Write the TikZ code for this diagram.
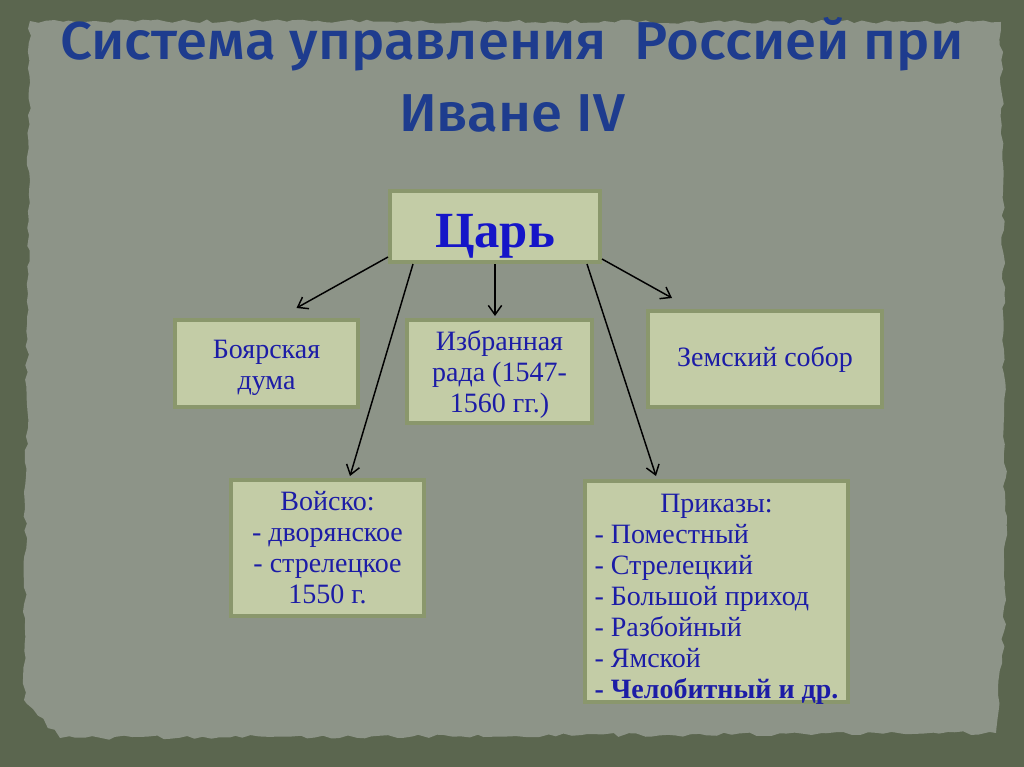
\documentclass[tikz,border=0pt]{standalone}
\usepackage{fontspec}
\setmainfont{Liberation Serif}
\newfontfamily\titlefont[FakeStretch=1.055]{Fira Sans Medium}
\usetikzlibrary{calc,arrows.meta,decorations.pathmorphing}

\definecolor{frameolive}{HTML}{5B664F}
\definecolor{paper}{HTML}{8D9488}
\definecolor{boxfill}{HTML}{C3CCA6}
\definecolor{boxline}{HTML}{8A976C}
\definecolor{titleblue}{HTML}{1E3C8E}
\definecolor{textblue}{HTML}{1C1CA6}
\definecolor{tsarblue}{HTML}{1515C8}

% lower the text of a box by #1 without changing its size
\newcommand\lowerby[2]{\raisebox{0pt}[\dimexpr\height+#1\relax][\dimexpr\depth-#1\relax]{#2}}

\begin{document}
\begin{tikzpicture}[
  x=0.75pt, y=-0.75pt,
  block/.style={rectangle, draw=boxline, fill=boxfill, line width=3pt, inner sep=0pt,
    align=center, text=textblue, font=\fontsize{21}{23.25}\selectfont},
  link/.style={->, line width=1.1pt, black},
  >={Straight Barb[length=7pt,width=10pt]}
]
\useasboundingbox (0,0) rectangle (1024,767);
\fill[frameolive] (0,0) rectangle (1024,767);
\fill[paper, decorate, decoration={random steps, segment length=6pt, amplitude=1.5pt}]
  (30,21) -- (1001,22) -- (1006,600) -- (996,733) -- (60,738) -- (24,700) -- cycle;

\node[font=\titlefont\fontsize{40}{53.5}\selectfont, text=titleblue, align=center] (title) at (512,75)
  {Система управления\ \ Россией при\\Иване IV};

\node[block, minimum width=157.5pt, minimum height=53.25pt, text=tsarblue,
  font=\bfseries\fontsize{38}{40}\selectfont] (tsar) at (495,226.5) {\lowerby{7pt}{Царь}};
\node[block, minimum width=137.25pt, minimum height=65.25pt] (boyar) at (266.5,363.5)
  {\lowerby{3pt}{\begin{tabular}{@{}c@{}}Боярская\\дума\end{tabular}}};
\node[block, minimum width=138.75pt, minimum height=77.25pt] (rada) at (499.5,371.5)
  {\lowerby{3pt}{\begin{tabular}{@{}c@{}}Избранная\\рада (1547-\\1560 гг.)\end{tabular}}};
\node[block, minimum width=175.5pt, minimum height=72pt] (sobor) at (765,359) {Земский собор};
\node[block, minimum width=144.75pt, minimum height=102pt] (army) at (327.5,548) {Войско:\\- дворянское\\- стрелецкое\\1550 г.};
\node[block, minimum width=197.25pt, minimum height=165.75pt] (prikaz) at (716.5,591.5)
  {\lowerby{6pt}{\begin{tabular}{@{}l@{}}
  \multicolumn{1}{c}{Приказы:}\\
  - Поместный\\
  - Стрелецкий\\
  - Большой приход\\
  - Разбойный\\
  - Ямской\\
  \textbf{- Челобитный и др.}
  \end{tabular}}};

\draw[link] ($(tsar.south west)+(0,-7)$) -- ($(boyar.north)+(30,-10)$);
\draw[link] ($(tsar.south west)+(25,0)$) -- ($(army.north)+(22.5,-2)$);
\draw[link] (tsar.south) -- ($(tsar.south |- rada.north)+(0,-2)$);
\draw[link] ($(tsar.south east)+(-15,0)$) -- ($(prikaz.north)+(-60.5,-3)$);
\draw[link] ($(tsar.south east)+(0,-5)$) -- ($(sobor.north)+(-93,-11)$);
\end{tikzpicture}
\end{document}
